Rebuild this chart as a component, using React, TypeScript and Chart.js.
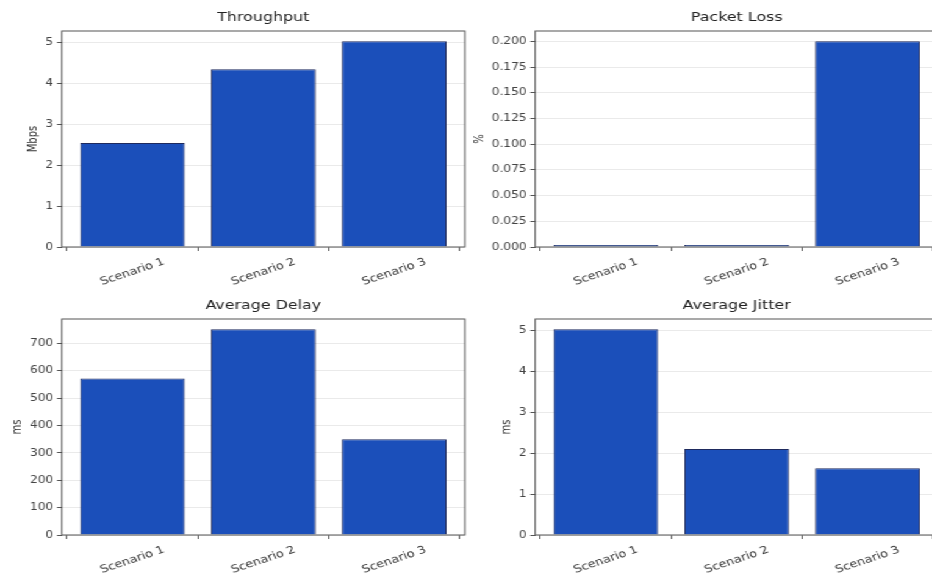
import React, { useEffect, useRef } from 'react';
import { Chart, registerables } from 'chart.js';

Chart.register(...registerables);
Chart.defaults.font.family = '"DejaVu Sans", sans-serif';

const categories = ['Scenario 1', 'Scenario 2', 'Scenario 3'];
const throughput = [2.54, 4.34, 5.02];
const packetLoss = [0.002, 0.002, 0.2];
const delay = [572, 752, 350];
const jitter = [5.02, 2.1, 1.63];

const titles = ['Throughput', 'Packet Loss', 'Average Delay', 'Average Jitter'];
const units = ['Mbps', '%', 'ms', 'ms'];
const stepSizes = [1, 0.025, 100, 1];
const decimals = [0, 3, 0, 0];
const seriesList = [throughput, packetLoss, delay, jitter];

const STRETCH = 1.22;
const PANEL_W = 385;
const PANEL_H = 288;

const panelPlugin = {
  id: 'panelDecor',
  afterDraw(chart: any, _args: any, opts: any) {
    const { ctx, chartArea: a, scales } = chart;
    ctx.save();
    // frame
    ctx.strokeStyle = '#555555';
    ctx.lineWidth = 1;
    ctx.strokeRect(a.left, a.top, a.right - a.left, a.bottom - a.top);
    // title
    ctx.fillStyle = '#222222';
    ctx.font = '13px "DejaVu Sans"';
    ctx.textAlign = 'center';
    ctx.textBaseline = 'alphabetic';
    ctx.fillText(opts.title, (a.left + a.right) / 2, a.top - 10);
    // y label
    ctx.font = '10px "DejaVu Sans"';
    const ys = scales.y;
    let w = 0;
    ys.ticks.forEach((t: any) => {
      w = Math.max(w, ctx.measureText(String(t.label)).width);
    });
    const lx = a.left - 4 - 3 - w - 6 - 4;
    ctx.save();
    ctx.translate(lx, (a.top + a.bottom) / 2);
    ctx.rotate(-Math.PI / 2);
    ctx.textAlign = 'center';
    ctx.textBaseline = 'middle';
    ctx.fillStyle = '#333333';
    ctx.fillText(opts.unit, 0, 0);
    ctx.restore();
    // x labels
    const xs = scales.x;
    ctx.fillStyle = '#333333';
    ctx.font = '10.5px "DejaVu Sans"';
    categories.forEach((c, i) => {
      const px = xs.getPixelForValue(i);
      ctx.save();
      ctx.translate(px, a.bottom + 25);
      ctx.rotate((-22 * Math.PI) / 180);
      ctx.textAlign = 'center';
      ctx.textBaseline = 'middle';
      ctx.fillText(c, 0, 0);
      ctx.restore();
    });
    ctx.restore();
  },
};

function Panel({ idx, left, top }: { idx: number; left: number; top: number }) {
  const ref = useRef<HTMLCanvasElement | null>(null);
  useEffect(() => {
    const canvas = ref.current;
    if (!canvas) return;
    const values = seriesList[idx];
    const ymax = Math.max(...values) * 1.05;
    const chart = new Chart(canvas, {
      type: 'bar',
      data: {
        datasets: [
          {
            data: values.map((v, i) => ({ x: i, y: v })),
            backgroundColor: '#1b4fba',
            borderColor: '#1e2a5e',
            borderWidth: 1,
            barPercentage: 0.8,
            categoryPercentage: 1.0,
          },
        ],
      },
      options: {
        responsive: false,
        animation: false,
        devicePixelRatio: 1,
        layout: { padding: { top: 31, right: 4, bottom: 0, left: 0 } },
        plugins: {
          legend: { display: false },
          tooltip: { enabled: false },
          title: { display: false },
          panelDecor: { title: titles[idx], unit: units[idx] },
        } as any,
        scales: {
          x: {
            type: 'linear',
            min: -0.54,
            max: 2.54,
            offset: false,
            ticks: { display: false, stepSize: 1, includeBounds: false } as any,
            grid: {
              display: true,
              drawOnChartArea: false,
              drawTicks: true,
              tickLength: 4,
              tickColor: '#555555',
            },
            border: { display: false },
            afterFit: (s: any) => {
              s.height = PANEL_H - 247;
            },
          },
          y: {
            type: 'linear',
            min: 0,
            max: ymax,
            z: 1,
            ticks: {
              stepSize: stepSizes[idx],
              includeBounds: false,
              color: '#444444',
              font: { size: 10 },
              padding: 3,
              callback: (v: any) => Number(v).toFixed(decimals[idx]),
            } as any,
            grid: {
              color: 'rgba(190,190,190,0.32)',
              lineWidth: 1,
              drawTicks: true,
              tickLength: 4,
              tickColor: '#555555',
            },
            border: { display: false },
            afterFit: (s: any) => {
              s.width = 50.7;
            },
          },
        },
      } as any,
      plugins: [panelPlugin],
    });
    return () => chart.destroy();
  }, [idx]);
  return (
    <canvas
      ref={ref}
      width={PANEL_W}
      height={PANEL_H}
      style={{
        position: 'absolute',
        left,
        top,
        width: PANEL_W + 'px',
        height: PANEL_H + 'px',
      }}
    />
  );
}

export default function App() {
  return (
    <div
      style={{
        position: 'absolute',
        left: 0,
        top: 0,
        width: 932,
        height: 576,
        overflow: 'hidden',
        background: '#ffffff',
      }}
    >
      <div
        style={{
          position: 'absolute',
          left: 0,
          top: 0,
          width: 780,
          height: 576,
          transform: `scaleX(${STRETCH})`,
          transformOrigin: '0 0',
        }}
      >
        <Panel idx={0} left={0} top={0} />
        <Panel idx={1} left={388} top={0} />
        <Panel idx={2} left={0} top={288} />
        <Panel idx={3} left={388} top={288} />
      </div>
    </div>
  );
}
